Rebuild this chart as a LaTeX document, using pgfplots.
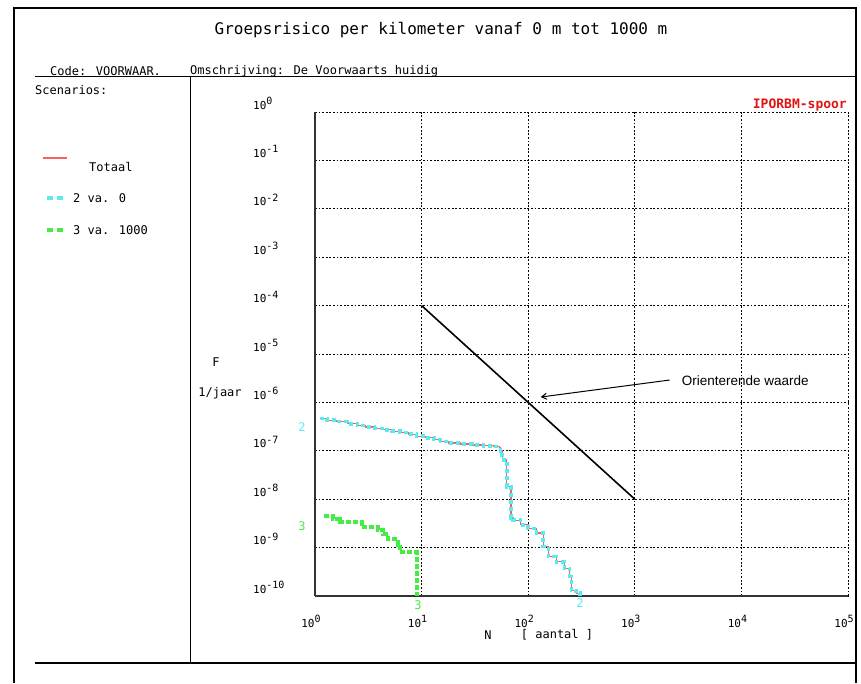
\documentclass[border=0pt]{standalone}
\usepackage{pgfplots}
\pgfplotsset{compat=1.18}
\usetikzlibrary{arrows.meta}
\usepackage{fontspec}
\setmainfont{Liberation Sans}
\newfontfamily\pix{DejaVu Sans Mono}
\definecolor{cyanc}{RGB}{90,235,240}
\definecolor{greenc}{RGB}{70,235,70}
\definecolor{redc}{RGB}{250,95,95}
\definecolor{labred}{RGB}{225,20,20}
\newcommand{\tl}[1]{{\pix\fontsize{11}{11}\selectfont 10\raisebox{4.5pt}{\fontsize{10}{10}\selectfont#1}}}
\newcommand{\pixs}{\pix\fontsize{12}{12}\selectfont}

\begin{document}
\begin{tikzpicture}[x=1pt,y=1pt]
\useasboundingbox (0,0) rectangle (861,683);
% outer frame
\draw[line width=1.5pt] (14,0) -- (14,675) -- (856,675) -- (856,0);
% header
\node[font=\pix\fontsize{16}{16}\selectfont] at (441,653) {Groepsrisico per kilometer vanaf 0 m tot 1000 m};
\node[font=\pixs, anchor=west, inner sep=0pt] at (50,612) {Code: VOORWAAR.};
\node[font=\pixs, anchor=west, inner sep=0pt] at (190,612) {Omschrijving: De Voorwaarts huidig};
\draw[line width=1pt] (35,606) -- (856,606);
\draw[line width=1pt] (190,606) -- (190,20);
\draw[line width=2pt] (35,20) -- (856,20);
\node[font=\pixs, anchor=west, inner sep=0pt] at (35,593) {Scenarios:};
% legend
\draw[redc, line width=1.3pt] (43,525) -- (67,525);
\node[font=\pixs, anchor=west, inner sep=0pt] at (89,516) {Totaal};
\draw[cyanc, line width=3.5pt] (47,485) -- (53,485);
\draw[cyanc, line width=3.5pt] (57,485) -- (63,485);
\node[font=\pixs, anchor=west, inner sep=0pt] at (73,485) {2 va. 0};
\draw[greenc, line width=3.5pt] (47,453) -- (53,453);
\draw[greenc, line width=3.5pt] (57,453) -- (63,453);
\node[font=\pixs, anchor=west, inner sep=0pt] at (73,453) {3 va. 1000};
% axis labels
\node[font=\pixs] at (216,321) {F};
\node[font=\pixs] at (220,290) {1/jaar};
\node[font=\pixs] at (488,48) {N};
\node[font=\pixs] at (557,48) {[ aantal ]};
\node[font=\pix\bfseries\fontsize{13}{13}\selectfont, text=labred, anchor=east, inner sep=0pt] at (847,578) {IPORBM-spoor};
% curve labels
\node[font=\pixs, text=cyanc] at (302,256) {2};
\node[font=\pixs, text=greenc] at (302,157) {3};
\node[font=\pixs, text=greenc] at (418,78) {3};
\node[font=\pixs, text=cyanc] at (580,80) {2};

\begin{axis}[
  at={(315pt,87pt)}, anchor=south west,
  width=533pt, height=484pt, scale only axis,
  xmode=log, ymode=log,
  xmin=1, xmax=1e5, ymin=1e-10, ymax=1,
  axis x line*=bottom, axis y line*=left,
  axis line style={-, line width=1.3pt, black!80},
  grid=major,
  major grid style={black, line width=0.9pt, dash pattern=on 1.8pt off 1.8pt},
  major tick length=0pt, minor tick length=0pt,
  xtick={1,10,100,1000,10000,100000},
  xticklabels={\tl{0},\tl{1},\tl{2},\tl{3},\tl{4},\tl{5}},
  ytick={1e-10,1e-9,1e-8,1e-7,1e-6,1e-5,1e-4,1e-3,1e-2,1e-1,1},
  yticklabels={\tl{-10},\tl{-9},\tl{-8},\tl{-7},\tl{-6},\tl{-5},\tl{-4},\tl{-3},\tl{-2},\tl{-1},\tl{0}},
  xticklabel style={anchor=base, yshift=-31pt, xshift=-4pt, inner sep=0pt},
  yticklabel style={anchor=base west, xshift=-62pt, yshift=3pt, inner sep=0pt},
]
% orienterende waarde
\addplot[black, line width=1.6pt] coordinates {(10,1e-4) (1000,1e-8)};
% Totaal (red)
\addplot[redc, line width=1.1pt, const plot] coordinates {
(1.11,4.7e-7) (1.3,4.3e-7) (1.6,4.0e-7) (2.0,3.6e-7) (2.5,3.3e-7) (3.0,3.1e-7)
(3.6,2.9e-7) (4.3,2.7e-7) (5.2,2.55e-7) (6.3,2.4e-7) (7.5,2.2e-7) (9.0,2.0e-7)
(11,1.85e-7) (13,1.7e-7) (15,1.55e-7) (18,1.45e-7) (23,1.38e-7) (30,1.32e-7)
(38,1.27e-7) (47,1.22e-7) (54,1.18e-7) (55,1.0e-7) (57,6.5e-8) (63,1.8e-8)
(69,4.1e-9) (72,3.7e-9) (85,2.95e-9) (100,2.5e-9) (120,2.0e-9) (138,1.05e-9)
(155,6.5e-10) (184,5.1e-10) (220,3.7e-10) (245,2.5e-10) (254,1.3e-10) (282,1.15e-10) (305,1e-10)};
% scenario 2 (cyan)
\addplot[cyanc, line width=3.5pt, dash pattern=on 4pt off 3pt, const plot] coordinates {
(1.11,4.7e-7) (1.3,4.3e-7) (1.6,4.0e-7) (2.0,3.6e-7) (2.5,3.3e-7) (3.0,3.1e-7)
(3.6,2.9e-7) (4.3,2.7e-7) (5.2,2.55e-7) (6.3,2.4e-7) (7.5,2.2e-7) (9.0,2.0e-7)
(11,1.85e-7) (13,1.7e-7) (15,1.55e-7) (18,1.45e-7) (23,1.38e-7) (30,1.32e-7)
(38,1.27e-7) (47,1.22e-7) (54,1.18e-7) (55,1.0e-7) (57,6.5e-8) (63,1.8e-8)
(69,4.1e-9) (72,3.7e-9) (85,2.95e-9) (100,2.5e-9) (120,2.0e-9) (138,1.05e-9)
(155,6.5e-10) (184,5.1e-10) (220,3.7e-10) (245,2.5e-10) (254,1.3e-10) (282,1.15e-10) (305,1e-10)};
% scenario 3 (green)
\addplot[greenc, line width=4pt, dash pattern=on 5pt off 2pt, const plot] coordinates {
(1.21,4.4e-9) (1.48,3.9e-9) (1.71,3.4e-9) (2.74,2.65e-9) (3.9,2.3e-9) (4.37,1.9e-9)
(4.88,1.5e-9) (6.0,1.12e-9) (6.26,8.0e-10) (9.0,1e-10)};
% annotation arrow
\draw[-{Straight Barb[length=5pt,width=6pt]}, line width=1pt] (axis cs:2124,2.9e-6) -- (axis cs:131,1.29e-6);
\node[anchor=west, inner sep=0pt, font=\fontsize{13.5}{14}\selectfont] at (axis cs:2754,2.75e-6) {Orienterende waarde};
\end{axis}
\end{tikzpicture}
\end{document}
